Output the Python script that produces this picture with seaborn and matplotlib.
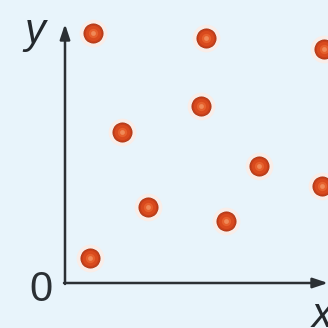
import numpy as np
import matplotlib
matplotlib.use("Agg")
import matplotlib.pyplot as plt
import seaborn as sns
import pandas as pd

# point positions (arbitrary units, origin at the axes corner)
x_vals = [28, 141, 259, 57, 136, 194, 257, 83, 161, 25]
y_vals = [250, 245, 234, 151, 177, 117, 97, 76, 62, 25]

df = pd.DataFrame({"x": x_vals, "y": y_vals})

bg = "#e8f4fb"
sns.set_style("white")
plt.rcParams["font.family"] = ["Liberation Sans", "DejaVu Sans"]

fig = plt.figure(figsize=(3.28, 3.28), dpi=100, facecolor=bg)
ax = fig.add_axes([65 / 328, 45 / 328, 263 / 328, 283 / 328])
ax.set_facecolor(bg)
ax.set_xlim(0, 263)
ax.set_ylim(0, 283)
for s in ax.spines.values():
    s.set_visible(False)
ax.set_xticks([])
ax.set_yticks([])

# soft halo, then shaded ball layers
sns.scatterplot(data=df, x="x", y="y", s=400, color="#f9ede8", linewidth=0, ax=ax, zorder=2)
sns.scatterplot(data=df, x="x", y="y", s=190, color="#c8401a", edgecolor="#a8320f",
                linewidth=0.6, ax=ax, zorder=3)
sns.scatterplot(data=df, x="x", y="y", s=120, color="#d94a1d", linewidth=0, ax=ax, zorder=4)
sns.scatterplot(data=df, x="x", y="y", s=45, color="#e6602c", linewidth=0, ax=ax, zorder=5)
sns.scatterplot(data=df, x="x", y="y", s=12, color="#f08a58", linewidth=0, ax=ax, zorder=6)
ax.set_xlabel("")
ax.set_ylabel("")

axis_col = "#2b3034"
ax.annotate("", xy=(0, 259), xytext=(0, -1), annotation_clip=False,
            arrowprops=dict(arrowstyle="-|>,head_length=0.9,head_width=0.3",
                            color=axis_col, lw=1.8, shrinkA=0, shrinkB=0), zorder=1)
ax.annotate("", xy=(263, 0), xytext=(-1, 0), annotation_clip=False,
            arrowprops=dict(arrowstyle="-|>,head_length=0.9,head_width=0.3",
                            color=axis_col, lw=1.8, shrinkA=0, shrinkB=0), zorder=1)

ax.text(-30, 251, "y", fontsize=30, style="italic", color="#24292d",
        ha="center", va="center")
ax.text(-24, -7, "0", fontsize=30, color="#2b3034", ha="center", va="center")
ax.text(257, -33, "x", fontsize=30, style="italic", color="#24292d",
        ha="center", va="center")

fig.savefig("out.png", dpi=100, facecolor=bg)
